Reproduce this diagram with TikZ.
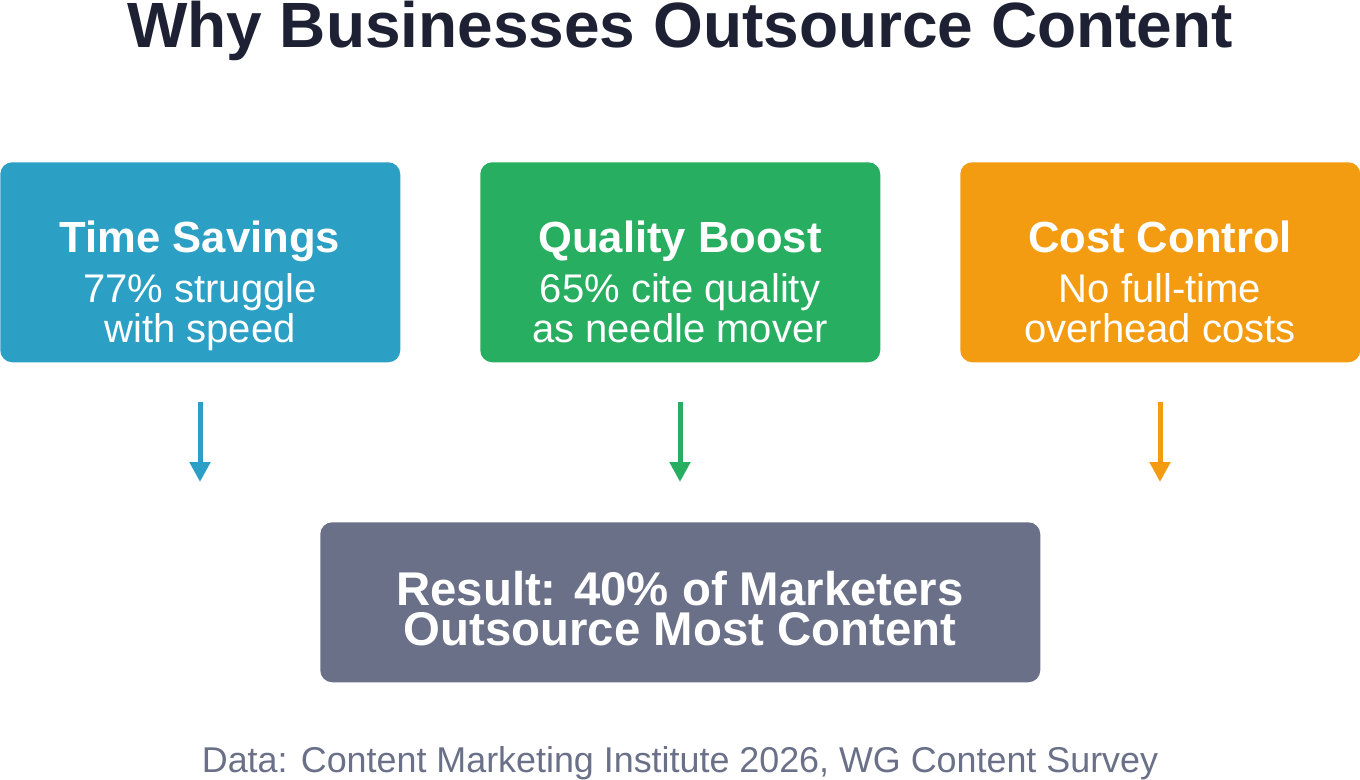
\documentclass[tikz,border=0pt]{standalone}
\usepackage{fontspec}
\setmainfont{Liberation Sans}
\usetikzlibrary{arrows.meta}
\definecolor{cblue}{HTML}{2C9FC4}
\definecolor{cgreen}{HTML}{27AE60}
\definecolor{corange}{HTML}{F39C12}
\definecolor{cgray}{HTML}{6B7089}
\definecolor{ctitle}{HTML}{1E2133}
\tikzset{
  card/.style={rounded corners=9pt, minimum width=300pt, minimum height=150pt, inner sep=0pt, anchor=north west},
  cardtitle/.style={text=white, font=\bfseries\fontsize{32.7}{38}\selectfont, anchor=base, inner sep=0pt},
  cardsub/.style={text=white, font=\fontsize{30}{34}\selectfont, anchor=base, inner sep=0pt},
  restext/.style={text=white, font=\bfseries\fontsize{35.5}{40}\selectfont, anchor=base, inner sep=0pt},
  flow/.style={line width=3.75pt, -{Triangle[width=15pt,length=15pt]}},
}
\begin{document}
\begin{tikzpicture}[x=0.75pt,y=-0.75pt]
\useasboundingbox (0,0) rectangle (1360,780);
\node[anchor=base, inner sep=0pt, text=ctitle, font=\bfseries\fontsize{48}{54}\selectfont] (title) at (680,48) {Why Businesses Outsource Content};

\node[card, fill=cblue] (b1) at (0,162) {};
\node[card, fill=cgreen] (b2) at (480,162) {};
\node[card, fill=corange] (b3) at (960,162) {};

\node[cardtitle] (t1) at (200,253) {Time Savings};
\node[cardsub] (s1a) at (200,303) {77\% struggle};
\node[cardsub] (s1b) at (200,343) {with speed};
\node[cardtitle] (t2) at (680,253) {Quality Boost};
\node[cardsub] (s2a) at (680,303) {65\% cite quality};
\node[cardsub] (s2b) at (680,343) {as needle mover};
\node[cardtitle] (t3) at (1160,253) {Cost Control};
\node[cardsub] (s3a) at (1160,303) {No full-time};
\node[cardsub] (s3b) at (1160,343) {overhead costs};

\coordinate (a1s) at (200,402); \coordinate (a1e) at (200,482);
\coordinate (a2s) at (680,402); \coordinate (a2e) at (680,482);
\coordinate (a3s) at (1160,402); \coordinate (a3e) at (1160,482);
\draw[flow, cblue] (a1s) -- (a1e);
\draw[flow, cgreen] (a2s) -- (a2e);
\draw[flow, corange] (a3s) -- (a3e);

\node[card, fill=cgray, minimum width=540pt, minimum height=120pt] (res) at (320,522) {};
\node[restext] (r1) at (680,605) {Result: 40\% of Marketers};
\node[restext] (r2) at (680,645) {Outsource Most Content};

\node[anchor=base, inner sep=0pt, text=cgray, font=\fontsize{26.9}{30}\selectfont] (foot) at (680,772) {Data: Content Marketing Institute 2026, WG Content Survey};
\end{tikzpicture}
\end{document}
